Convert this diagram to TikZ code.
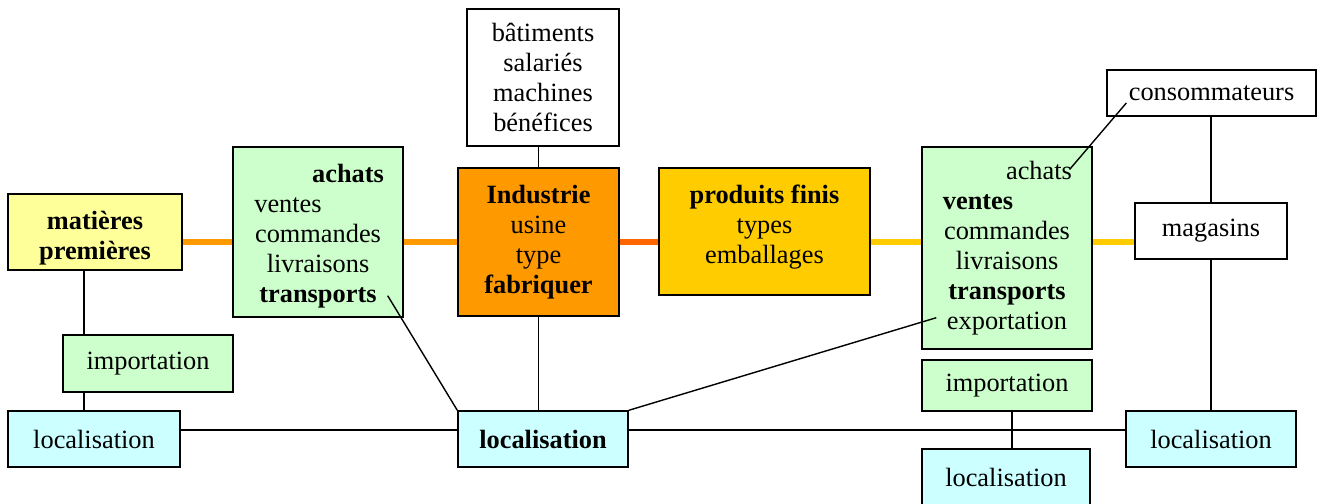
\documentclass[tikz,border=0pt]{standalone}
\usepackage{fontspec}
\setmainfont{Liberation Serif}
\definecolor{jauneclair}{HTML}{FFFF99}
\definecolor{vertclair}{HTML}{CCFFCC}
\definecolor{bleuclair}{HTML}{CCFFFF}
\definecolor{orangefonce}{HTML}{FF9900}
\definecolor{orangerouge}{HTML}{FF6600}
\definecolor{jaunefonce}{HTML}{FFCC00}

\begin{document}
\begin{tikzpicture}[
  box/.style={draw,line width=0.8pt,align=center,inner sep=0pt,
    font=\fontsize{15}{17}\selectfont},
  flow/.style={line width=3.4pt},
  link/.style={line width=0.8pt}]
  \useasboundingbox (0,0) rectangle (26.36,-10.06);
  \node[box,fill=jauneclair,minimum width=3.48cm,minimum height=1.52cm] (Mat) at (1.90,-4.64) {\rule{0pt}{17pt}\textbf{matières}\\\textbf{premières}};
  \node[box,fill=vertclair,minimum width=3.40cm,minimum height=3.40cm] (Ach-1) at (6.36,-4.64) {\rule{0pt}{15pt}\hspace*{1.2cm}\textbf{achats}\\ventes\hspace*{1.2cm}\mbox{}\\commandes\\livraisons\\\textbf{transports}};
  \node[box,fill=white,minimum width=3.04cm,minimum height=2.74cm] (Bat) at (10.86,-1.55) {bâtiments\\salariés\\machines\\bénéfices};
  \node[box,fill=orangefonce,minimum width=3.22cm,minimum height=2.96cm] (Ind) at (10.77,-4.84) {\textbf{Industrie}\\usine\\type\\\textbf{fabriquer}};
  \node[box,fill=jaunefonce,minimum width=4.22cm,minimum height=2.54cm] (Prod) at (15.29,-4.63) {\textbf{produits finis}\\types\\emballages\rule[-8pt]{0pt}{0pt}};
  \node[box,fill=vertclair,minimum width=3.40cm,minimum height=4.04cm] (Ach-2) at (20.14,-4.96) {\hspace*{1.28cm}achats\\\textbf{ventes}\hspace*{1.16cm}\mbox{}\\commandes\\livraisons\\\textbf{transports}\\exportation};
  \node[box,fill=white,minimum width=4.18cm,minimum height=0.92cm] (Cons) at (24.23,-1.86) {consommateurs};
  \node[box,fill=white,minimum width=3.04cm,minimum height=1.12cm] (Mag) at (24.22,-4.62) {magasins};
  \node[box,fill=vertclair,minimum width=3.40cm,minimum height=1.14cm] (Imp-1) at (2.96,-7.27) {importation};
  \node[box,fill=vertclair,minimum width=3.40cm,minimum height=1.02cm] (Imp-2) at (20.14,-7.71) {importation};
  \node[box,fill=bleuclair,minimum width=3.44cm,minimum height=1.12cm] (Loc-1) at (1.88,-8.78) {localisation};
  \node[box,fill=bleuclair,minimum width=3.40cm,minimum height=1.12cm] (Loc-2) at (10.86,-8.78) {\textbf{localisation}};
  \node[box,fill=bleuclair,minimum width=3.36cm,minimum height=1.12cm] (Loc-3) at (20.12,-9.54) {localisation};
  \node[box,fill=bleuclair,minimum width=3.40cm,minimum height=1.12cm] (Loc-4) at (24.22,-8.78) {localisation};
  % chaine de production
  \draw[flow,orangefonce] (Mat.east |- Ind) -- (Ach-1.west |- Ind);
  \draw[flow,orangefonce] (Ach-1.east |- Ind) -- (Ind.west);
  \draw[flow,orangerouge] (Ind.east) -- (Prod.west |- Ind);
  \draw[flow,jaunefonce] (Prod.east |- Ind) -- (Ach-2.west |- Ind);
  \draw[flow,jaunefonce] (Ach-2.east |- Ind) -- (Mag.west |- Ind);
  % liaisons
  \coordinate (V-1) at ([xshift=-0.22cm]Mat.south);
  \coordinate (V-2) at ([xshift=0.1cm]Imp-2.south);
  \coordinate (H-1) at ([yshift=0.18cm]Loc-2.west);
  \draw[link] (V-1) -- (V-1 |- Imp-1.north);
  \draw[link] (V-1 |- Imp-1.south) -- (V-1 |- Loc-1.north);
  \draw[link] (Bat.south -| Ind) -- (Ind.north);
  \draw[link] (Ind.south) -- (Ind.south |- Loc-2.north);
  \draw[link] (H-1 -| Loc-1.east) -- (H-1);
  \draw[link] (H-1 -| Loc-2.east) -- (H-1 -| Loc-4.west);
  \draw[link] (V-2) -- (V-2 |- Loc-3.north);
  \draw[link] (Cons.south -| Mag) -- (Mag.north);
  \draw[link] (Mag.south) -- (Loc-4.north);
  \draw[link] ([shift={(-0.32,0.44)}]Ach-1.south east) -- (Loc-2.north west);
  \draw[link] ([shift={(0.30,0.64)}]Ach-2.south west) -- (Loc-2.north east);
  \draw[link] ([shift={(0.40,-0.20)}]Cons.west) -- ([shift={(-0.46,-0.46)}]Ach-2.north east);
\end{tikzpicture}
\end{document}
